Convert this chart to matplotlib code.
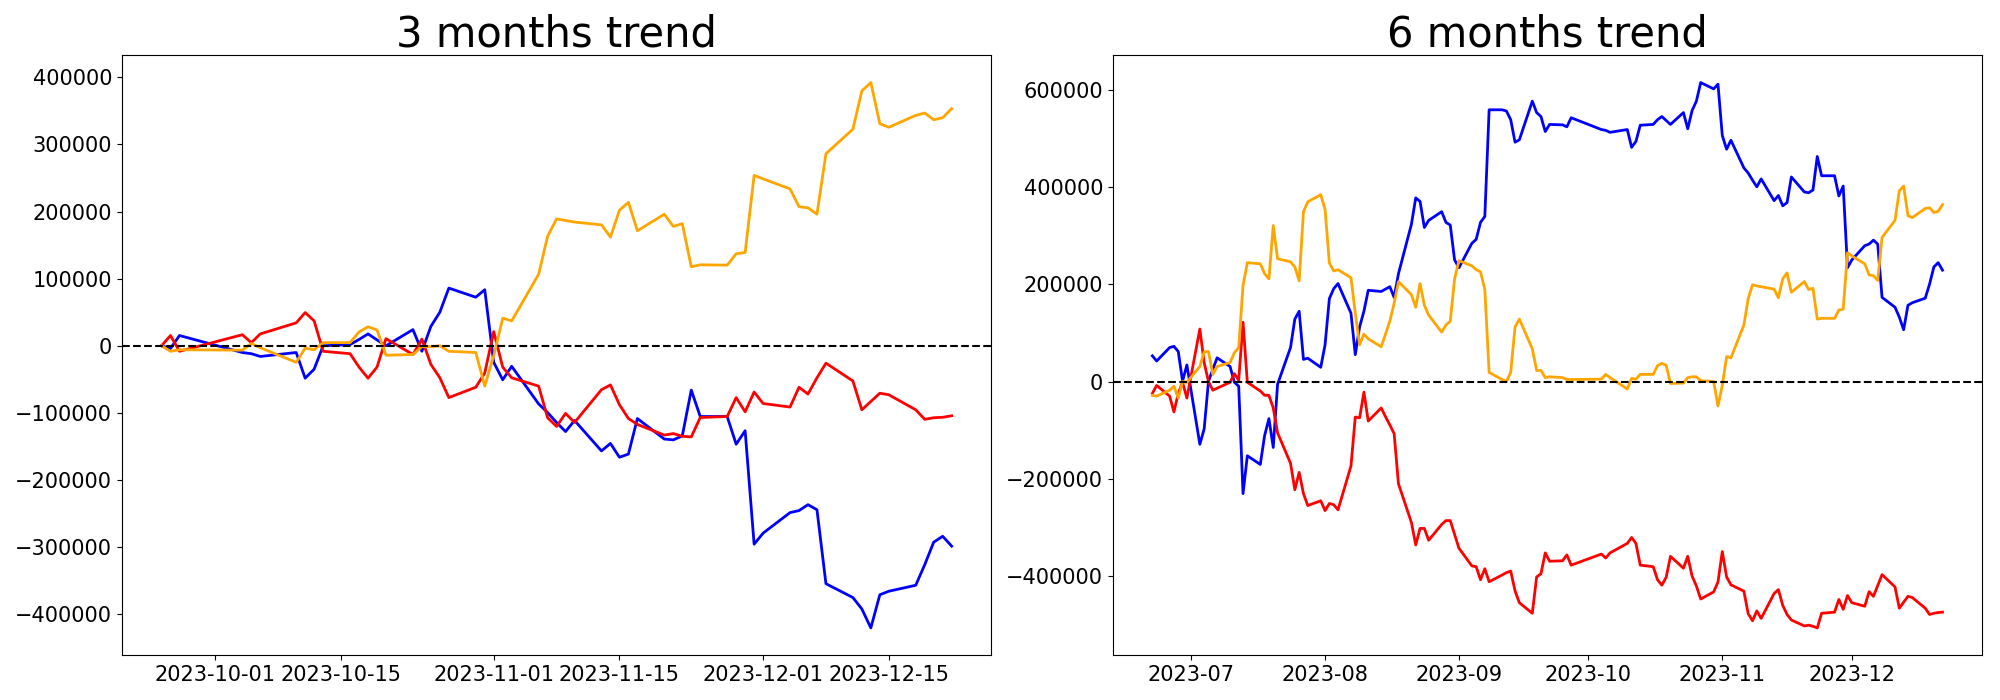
import pandas as pd
import matplotlib
matplotlib.use('Agg')
import matplotlib.pyplot as plt

# trading days on the charts (no points during the early October break)
skip_days = ['2023-09-28', '2023-09-29', '2023-10-02', '2023-10-03', '2023-10-09']
days_6m = pd.bdate_range('2023-06-22', '2023-12-22')
days_6m = days_6m[~days_6m.isin(pd.to_datetime(skip_days))]
days_3m = days_6m[days_6m >= '2023-09-25']

# 3 months trend
blue_3m = [0, -4100, 15300, -10000, -11800, -15900, -10000, -48300, -34800, 0,
           1800, 9400, 17700, 8800, 0, 24100, -8200, 28900, 50100, 86000,
           72400, 83600, -24700, -50700, -30600, -86600, -99500, -114300, -127800, -111300,
           -156700, -145500, -166100, -161400, -108400, -139000, -140200, -134300, -66000, -105400,
           -105400, -146700, -126600, -295700, -279200, -248600, -245600, -236800, -244400, -354600,
           -375200, -392300, -420500, -371100, -365800, -356900, -326300, -292700, -283900, -298600]
red_3m = [0, 15300, -8200, 16500, 4700, 17700, 34200, 49500, 37100, -8200,
          -11800, -31800, -48300, -31800, 10600, -13000, 10000, -27700, -47700, -77200,
          -61800, -40600, 21200, -31800, -47700, -60100, -107200, -120200, -100700, -114300,
          -65400, -58300, -87800, -108400, -117200, -133100, -130800, -134900, -135800, -106900,
          -105400, -77200, -98400, -68900, -86000, -91300, -61800, -71900, -47700, -25900,
          -52400, -95400, -83000, -70700, -73000, -95400, -109600, -107200, -106600, -104300]
orange_3m = [0, -8200, -5900, -6500, 3500, -2900, -24700, -3500, -5900, 4700,
             4700, 20600, 28300, 23600, -14100, -13000, -1200, -1200, 0, -8200,
             -10000, -60100, -15000, 41200, 37100, 106600, 163200, 189100, 186700, 184400,
             180200, 162000, 202000, 213800, 171400, 196100, 177900, 182000, 117800, 120700,
             120200, 137200, 139000, 253900, 248800, 233800, 207300, 205600, 196100, 286300,
             322800, 379900, 392300, 331000, 325700, 343400, 346900, 336900, 339900, 353400]

# 6 months trend
blue_6m = [52800, 42200, 69800, 72300, 61700, 800, 34100,
           -129100, -97400, 0, 25000, 48700,
           30900, -1600, -9700, -230600, -152700,
           -170500, -111200, -76300, -135600, -5700,
           69800, 128300, 144500, 45500, 47900,
           29200, 75500, 170500, 190800, 201400,
           140500, 55200, 112100, 144500, 187600,
           185100, 190000, 194900, 173000, 221700,
           323200, 377600, 370300, 316700, 331300,
           349200, 327200, 321600, 250100, 233900,
           284200, 292300, 327200, 339400, 558700,
           558700, 556200, 538400, 492100, 497000,
           576500, 553000, 544900, 514000, 528600,
           527800, 523700, 542400,
           518100, 516400, 512400,
           518100, 481500, 493700, 527000,
           528600, 538400, 544900, 536700, 528600,
           553000, 519700, 557000, 576500, 614700,
           601700, 611400, 505900, 477500, 496100,
           439300, 428700, 414000, 400300, 416600,
           371900, 382500, 361300, 367800, 420600,
           389800, 388100, 393800, 462800, 423100,
           423100, 381600, 401900, 233900, 250000,
           279300, 282600, 290700, 282600, 173000,
           152700, 132400, 106400, 156700, 162000,
           171300, 200000, 235500, 244400, 229000]
red_6m = [-24400, -8100, -30000, -62500, -24400, -1600, -34100,
          108000, 39000, 0, -17900, -13800,
          -1600, 16200, 2400, 121800, -1600,
          -19500, -28400, -28400, -54400, -105600,
          -168100, -222500, -186800, -230600, -255000,
          -245200, -265500, -250900, -253300, -263900,
          -173800, -73100, -74700, -21900, -81200,
          -54400, -72300, -89300, -107200, -210300,
          -289900, -336200, -302100, -302100, -326400,
          -294000, -286000, -286000, -314300, -342700,
          -379200, -380800, -407600, -384900, -411700,
          -397900, -393000, -389800, -430400, -454800,
          -476600, -401900, -395400, -352400, -369500,
          -368700, -356500, -377600,
          -354800, -363000, -352400,
          -332900, -320700, -332900, -377600,
          -380800, -407600, -418800, -402600, -359500,
          -383900, -359500, -400100, -420400, -447200,
          -432600, -412300, -349700, -401900, -418100,
          -431100, -477400, -492000, -471700, -487100,
          -436000, -427900, -460400, -479000, -490400,
          -502600, -501000, -503400, -506700, -476600,
          -474200, -448200, -468500, -440100, -454800,
          -462100, -432000, -441700, -419700, -397100,
          -422300, -466100, -453900, -441700, -444200,
          -466100, -479000, -476600, -475000, -474200]
orange_6m = [-28400, -30000, -17900, -9700, -34100, 0, -1600,
             30900, 60900, 61700, 14600, 30900,
             39000, 59300, 69800, 197300, 244400,
             242000, 221700, 211100, 320700, 252500,
             246000, 235500, 207100, 349200, 369500,
             384100, 354000, 243600, 227400, 229800,
             213600, 140500, 75500, 97400, 87700,
             71500, 97400, 124200, 160800, 205400,
             178600, 152700, 201400, 156700, 136400,
             101500, 116100, 124200, 211100, 248500,
             237900, 229800, 225700, 189200, 18700,
             4100, 0, 18700, 112100, 128300,
             67400, 22700, 22700, 8100, 9700,
             8100, 4100, 4100,
             4900, 14600, 8100,
             -15400, 6500, 4900, 14600,
             14600, 32500, 37400, 33300, -4100,
             -3200, 8100, 9700, 9700, 1600,
             0, -50300, -8000, 51200, 48700,
             116100, 170500, 198900, 196500, 194900,
             190000, 172100, 211100, 223300, 183500,
             205400, 189200, 191600, 128300, 129900,
             129900, 147000, 148600, 264700, 258200,
             242000, 219200, 217600, 207900, 296400,
             331300, 392200, 401900, 341000, 337000,
             355700, 357300, 347500, 350000, 363800]

fig, axes = plt.subplots(1, 2, figsize=(20, 7), dpi=100)

panels = [(axes[0], days_3m, blue_3m, red_3m, orange_3m, '3 months trend'),
          (axes[1], days_6m, blue_6m, red_6m, orange_6m, '6 months trend')]
for ax, days, b, r, o, title in panels:
    ax.plot(days, b, color='blue', linewidth=2)
    ax.plot(days, r, color='red', linewidth=2)
    ax.plot(days, o, color='orange', linewidth=2)
    ax.axhline(0, color='black', linestyle='--', linewidth=1.5)
    ax.set_title(title, fontsize=30)
    ax.tick_params(labelsize=15)

plt.subplots_adjust(left=0.061, right=0.991, bottom=0.064, top=0.921, wspace=0.14)
plt.savefig('out.png')
